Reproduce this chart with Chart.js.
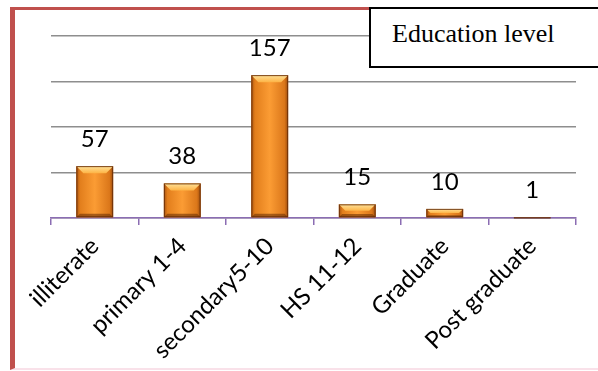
<!DOCTYPE html>
<html>
<head>
<meta charset="utf-8">
<script src="https://cdn.jsdelivr.net/npm/chart.js@4"></script>
<style>
  html, body { margin: 0; padding: 0; background: #fff; }
  #wrap { position: relative; width: 598px; height: 371px; overflow: hidden; }
  #frame {
    position: absolute; left: 10px; top: 7px; width: 620px; height: 358px;
    border-left: 5px solid #C0504D; border-top: 3px solid #C0504D;
    border-bottom: 2px solid #F9E1E9;
  }
  #chart { position: absolute; left: 0; top: 0; }
  #legendBox {
    position: absolute; left: 369px; top: 7px; width: 240px; height: 57px;
    border: 2px solid #000; background: #fff;
    font-family: "Liberation Serif", "Times New Roman", serif; font-size: 26px;
    line-height: 50px; padding-left: 21px; box-sizing: content-box;
  }
</style>
</head>
<body>
<div id="wrap">
  <div id="frame"></div>
  <canvas id="chart" width="598" height="371"></canvas>
  <div id="legendBox">Education level</div>
</div>
<script>
var EduLevels = ['illiterate', 'primary 1-4', 'secondary5-10', 'HS 11-12', 'Graduate', 'Post graduate'];
var EduCount = [57, 38, 157, 15, 10, 1];
var AxisTicks = [0, 50, 100, 150, 200];

// bevelled orange bars + value labels on top
var BarLook = {
  id: 'barLook',
  afterDatasetsDraw: function(chart) {
    var ctx = chart.ctx;
    var meta = chart.getDatasetMeta(0);
    meta.data.forEach(function(bar, i) {
      var p = bar.getProps(['x', 'y', 'base', 'width'], true);
      var l = p.x - p.width / 2, r = p.x + p.width / 2;
      var t = p.y, b = p.base, h = b - t;
      ctx.save();
      // body
      var g = ctx.createLinearGradient(l, 0, r, 0);
      g.addColorStop(0, '#A9530F');
      g.addColorStop(0.1, '#E27E1C');
      g.addColorStop(0.5, '#FB9C34');
      g.addColorStop(0.9, '#DB771A');
      g.addColorStop(1, '#9C4B0C');
      ctx.fillStyle = g;
      ctx.fillRect(l, t, p.width, h);
      // top bevel
      var bv = Math.min(7, h / 2);
      if (h > 2) {
        var tg = ctx.createLinearGradient(0, t, 0, t + bv);
        tg.addColorStop(0, '#FFE29A');
        tg.addColorStop(1, '#FDB446');
        ctx.fillStyle = tg;
        ctx.beginPath();
        ctx.moveTo(l, t);
        ctx.lineTo(r, t);
        ctx.lineTo(r - bv, t + bv);
        ctx.lineTo(l + bv, t + bv);
        ctx.closePath();
        ctx.fill();
        // bottom shade
        ctx.fillStyle = 'rgba(110,50,5,0.6)';
        ctx.beginPath();
        ctx.moveTo(l, b);
        ctx.lineTo(r, b);
        ctx.lineTo(r - bv / 2, b - bv / 2);
        ctx.lineTo(l + bv / 2, b - bv / 2);
        ctx.closePath();
        ctx.fill();
      }
      ctx.strokeStyle = 'rgba(100,45,10,0.85)';
      ctx.lineWidth = 1;
      ctx.strokeRect(l + 0.5, t + 0.5, p.width - 1, Math.max(h - 1, 0.5));
      // value label
      ctx.fillStyle = '#000';
      ctx.font = '24px Lato';
      ctx.textAlign = 'center';
      ctx.textBaseline = 'middle';
      ctx.fillText(String(EduCount[i]), p.x, t - 27);
      ctx.restore();
    });
  }
};

new Chart(document.getElementById('chart'), {
  type: 'bar',
  data: {
    labels: EduLevels,
    datasets: [{
      data: EduCount,
      backgroundColor: '#F08A22',
      barPercentage: 0.42,
      categoryPercentage: 1
    }]
  },
  options: {
    responsive: false,
    animation: false,
    layout: { padding: { left: 0, right: 22, top: 36, bottom: 0 } },
    plugins: {
      legend: { display: false },
      tooltip: { enabled: false }
    },
    scales: {
      x: {
        afterFit: function(s) { s.height = 153; },
        border: { color: '#8B6DB3', width: 1.5 },
        grid: { drawOnChartArea: false, drawTicks: true, tickLength: 7, color: '#8B6DB3', lineWidth: 1.5 },
        ticks: {
          autoSkip: false, minRotation: 45, maxRotation: 45, padding: 7,
          color: '#000', font: { family: 'Lato', size: 24 }
        }
      },
      y: {
        min: 0, max: 200,
        afterFit: function(s) { s.width = 51; },
        afterBuildTicks: function(s) { s.ticks = AxisTicks.map(function(v) { return { value: v }; }); },
        border: { display: false },
        grid: { color: '#8E8E8E', lineWidth: 1.5, drawTicks: false },
        ticks: { display: false }
      }
    }
  },
  plugins: [BarLook]
});
</script>
</body>
</html>
